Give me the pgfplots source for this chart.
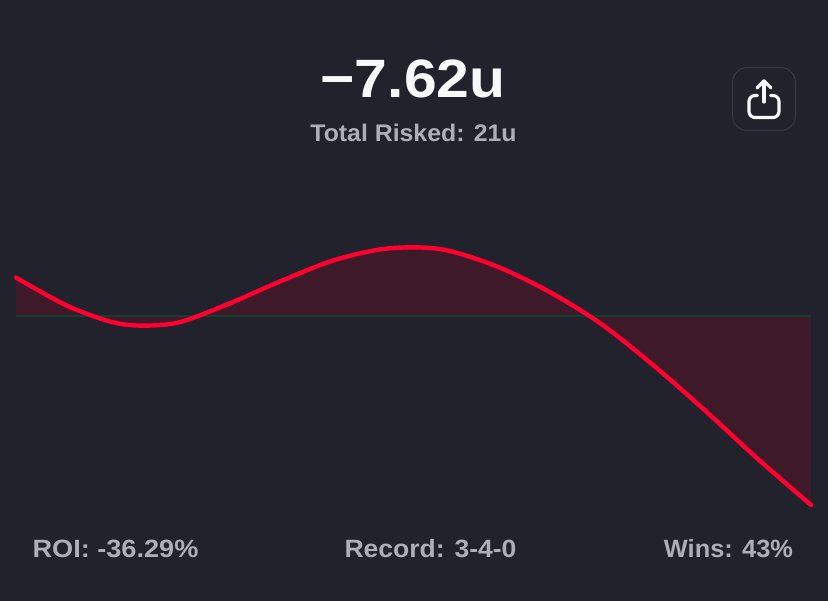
\documentclass[border=0pt]{standalone}
\usepackage{fontspec}
\setmainfont{Liberation Sans}
\usepackage{pgfplots}
\usepackage{pgfplotstable}
\pgfplotsset{compat=1.18}

\definecolor{bg}{HTML}{21222C}
\definecolor{areafill}{HTML}{3E1A28}
\definecolor{curvered}{HTML}{FF0030}
\definecolor{zerogreen}{HTML}{123F30}
\definecolor{labelgrey}{HTML}{AEAEB6}
\definecolor{headwhite}{HTML}{F8F8FB}
\definecolor{boxedge}{HTML}{383943}

% x: horizontal position on the card, y: units
\pgfplotstableread{
x y
16 1.55
69 0.38
122 -0.33
175 -0.29
228 0.48
281 1.41
334 2.25
387 2.72
440 2.70
493 2.06
546 1.05
599 -0.26
652 -1.94
705 -3.81
758 -5.77
811 -7.62
}\curve

\pgfplotstableread{
x y
16 0
811 0
}\zeroline

\begin{document}
\begin{tikzpicture}[x=1pt,y=1pt]
\fill[bg] (0,0) rectangle (828,601);
\path[use as bounding box] (0,0) rectangle (828,601);
\begin{axis}[
  at={(0,0)}, anchor=south west,
  hide axis, scale only axis,
  width=828pt, height=601pt,
  xmin=0, xmax=828,
  ymin=-11.49, ymax=12.74,
]
\addplot[draw=none, fill=areafill, smooth] table {\curve} \closedcycle;
\addplot[zerogreen, line width=1.2pt] table {\zeroline};
\addplot[curvered, line width=4.4pt, smooth, line cap=round] table {\curve};
\end{axis}

\node[headwhite, xscale=1.09, font=\fontsize{54}{54}\selectfont\bfseries] at (413,601-79) {−7.62u};
\node[labelgrey, xscale=1.035, font=\fontsize{24}{24}\selectfont\bfseries] at (413.5,601-133) {Total Risked: 21u};
\node[labelgrey, xscale=1.085, font=\fontsize{25}{25}\selectfont\bfseries] at (115.5,601-549) {ROI: -36.29\%};
\node[labelgrey, xscale=1.06, font=\fontsize{25}{25}\selectfont\bfseries] at (430.5,601-549) {Record: 3-4-0};
\node[labelgrey, xscale=1.015, font=\fontsize{25}{25}\selectfont\bfseries] at (728.5,601-549) {Wins: 43\%};

% share button
\draw[boxedge, line width=1pt, rounded corners=15pt] (732.5,601-67.5) rectangle (795.5,601-130.5);
\begin{scope}[headwhite, line width=3.2pt, line cap=round, line join=round]
\draw[rounded corners=6pt] (757.5,601-95.5) -- (749,601-95.5) -- (749,601-117.5) -- (779,601-117.5) -- (779,601-95.5) -- (770.5,601-95.5);
\draw (764,601-81) -- (764,601-102);
\draw (757,601-88) -- (764,601-81) -- (771,601-88);
\end{scope}
\end{tikzpicture}
\end{document}
